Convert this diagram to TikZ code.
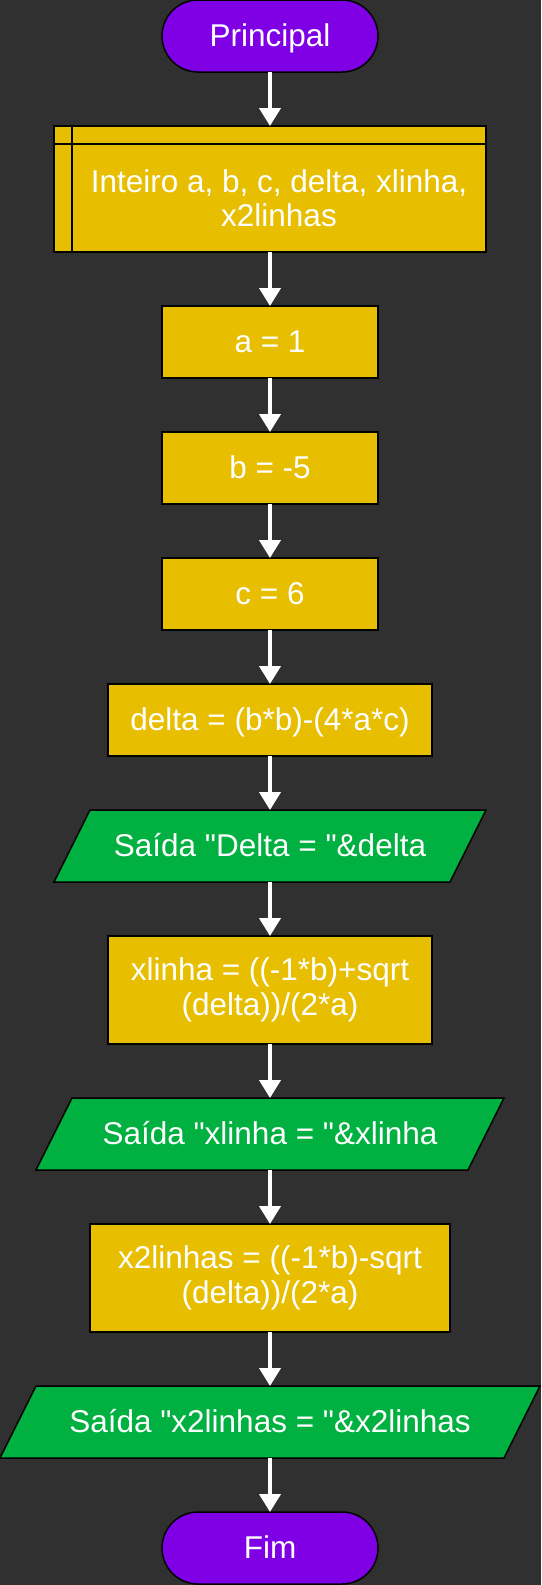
\documentclass[tikz,border=0pt]{standalone}
\usepackage{fontspec}
\setmainfont{Liberation Sans}[Ligatures=TeXOff]
\usepackage{tikz}
\usetikzlibrary{arrows.meta}
\usetikzlibrary{calc,shapes}

\definecolor{fundo}{HTML}{303030}
\definecolor{roxo}{HTML}{8000E6}
\definecolor{amarelo}{HTML}{E8BE00}
\definecolor{verde}{HTML}{00B040}

\pgfdeclarelayer{fundoLayer}
\pgfsetlayers{fundoLayer,main}

\tikzset{
  base/.style={draw=black,line width=1.5pt,text=white,align=center,inner sep=0pt,outer sep=0pt,
    font=\fontsize{31.5}{34.5}\selectfont},
  linha/.style={text height=28.5pt,text depth=6.7pt},
  terminal/.style={base,linha,rounded rectangle,fill=roxo,minimum width=216pt,minimum height=72pt},
  processo/.style={base,rectangle,fill=amarelo,minimum height=72pt},
  decl/.style={processo,minimum width=432pt,minimum height=126pt,
    path picture={
      \draw[line width=1.5pt] ([xshift=18pt]path picture bounding box.north west) -- ([xshift=18pt]path picture bounding box.south west);
      \draw[line width=1.5pt] ([yshift=-18pt]path picture bounding box.north west) -- ([yshift=-18pt]path picture bounding box.north east);
    }},
  saida/.style={base,linha,draw=none,rectangle,minimum height=72pt},
  texto/.style={text=white,align=center,inner sep=0pt,font=\fontsize{31.5}{34.5}\selectfont},
  seta/.style={-{Triangle[width=21pt,length=18pt]},white,line width=4pt},
}

% paralelogramo atras do no de saida
\newcommand{\paralelo}[1]{%
  \begin{pgfonlayer}{fundoLayer}
  \filldraw[fill=verde,draw=black,line width=1.5pt] ([xshift=18pt]#1.north west) -- ([xshift=18pt]#1.north east)
    -- ([xshift=-18pt]#1.south east) -- ([xshift=-18pt]#1.south west) -- cycle;
  \end{pgfonlayer}}

\begin{document}
\begin{tikzpicture}[x=1pt,y=-1pt]
\useasboundingbox (0,0) rectangle (541,1585);
\begin{pgfonlayer}{fundoLayer}
\fill[fundo] (0,0) rectangle (541,1585);
\end{pgfonlayer}

% Blocos
\node[terminal] (principal) at (270,36) {Principal};
\node[decl] (decl) at (270,189) {};
\node[texto] (declTexto) at ([xshift=9pt,yshift=-9pt]decl.center) {Inteiro a, b, c, delta, xlinha,\\x2linhas};
\node[processo,linha,minimum width=216pt] (a) at (270,342) {a = 1};
\node[processo,linha,minimum width=216pt] (b) at (270,468) {b = -5};
\node[processo,linha,minimum width=216pt] (c) at (270,594) {c = 6};
\node[processo,linha,minimum width=324pt] (delta) at (270,720) {delta = (b*b)-(4*a*c)};
\node[saida,minimum width=396pt] (saidaDelta) at (270,846) {Saída "Delta = "\&delta};
\node[processo,minimum width=324pt,minimum height=108pt] (xlinha) at (270,990) {xlinha = ((-1*b)+sqrt\\(delta))/(2*a)};
\node[saida,minimum width=432pt] (saidaX1) at (270,1134) {Saída "xlinha = "\&xlinha};
\node[processo,minimum width=360pt,minimum height=108pt] (x2linhas) at (270,1278) {x2linhas = ((-1*b)-sqrt\\(delta))/(2*a)};
\node[saida,minimum width=504pt] (saidaX2) at (270,1422) {Saída "x2linhas = "\&x2linhas};
\node[terminal] (fim) at (270,1548) {Fim};

\paralelo{saidaDelta}
\paralelo{saidaX1}
\paralelo{saidaX2}

% Setas
\draw[seta] (principal) -- (decl);
\draw[seta] (decl) -- (a);
\draw[seta] (a) -- (b);
\draw[seta] (b) -- (c);
\draw[seta] (c) -- (delta);
\draw[seta] (delta) -- (saidaDelta);
\draw[seta] (saidaDelta) -- (xlinha);
\draw[seta] (xlinha) -- (saidaX1);
\draw[seta] (saidaX1) -- (x2linhas);
\draw[seta] (x2linhas) -- (saidaX2);
\draw[seta] (saidaX2) -- (fim);
\end{tikzpicture}
\end{document}
